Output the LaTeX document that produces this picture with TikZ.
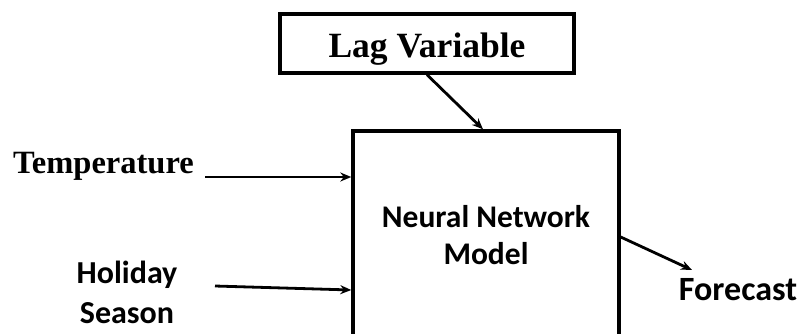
\documentclass[tikz,border=0pt]{standalone}
\usepackage{fontspec}
\setmainfont{Liberation Serif}
\newfontfamily\calib{Carlito}
\usetikzlibrary{arrows.meta}
\begin{document}
\begin{tikzpicture}[x=1pt,y=-1pt,
  boxed/.style={draw=black, line width=3.4pt, rectangle, inner sep=0pt},
  sansbold/.style={font=\fontsize{32}{40}\selectfont\calib\bfseries, inner sep=0pt, align=center},
  arr/.style={line width=2.8pt, -{Stealth[length=11pt,width=9pt]}}]
  \useasboundingbox (0,0) rectangle (804,333);
  \clip (0,0) rectangle (804,333);

  % boxes
  \node[boxed, minimum width=294pt, minimum height=59pt,
        text height=27pt, text depth=0pt,
        font=\fontsize{35.5}{40}\selectfont\bfseries] (lag) at (427,43.5) {Lag Variable};
  \node[boxed, minimum width=266pt, minimum height=208pt, align=center,
        font=\fontsize{31.5}{37}\selectfont\calib\bfseries] (nn) at (486,235)
        {Neural Network\\Model};

  % inputs and output labels
  \node[font=\fontsize{32.5}{36}\selectfont\bfseries, inner sep=0pt, anchor=base]
        (temp) at (103.5,173) {Temperature};
  \node[sansbold] (hol) at (127,292) {Holiday\\Season};
  \node[font=\fontsize{34}{40}\selectfont\calib\bfseries, inner sep=0pt, anchor=base]
        (fc) at (738,300) {Forecast};

  % free ends of the connectors
  \coordinate (tstart) at (205,177);
  \coordinate (hstart) at (215,286);
  \coordinate (fend) at (692,270);

  % connectors
  \draw[arr] (lag.south) -- ([xshift=-3pt]nn.north);
  \draw[arr] (tstart) -- (tstart -| nn.west);
  \draw[arr] (hstart) -- ([yshift=-4pt]hstart -| nn.west);
  \draw[arr] ([yshift=-2pt]nn.east) -- (fend);
\end{tikzpicture}
\end{document}
